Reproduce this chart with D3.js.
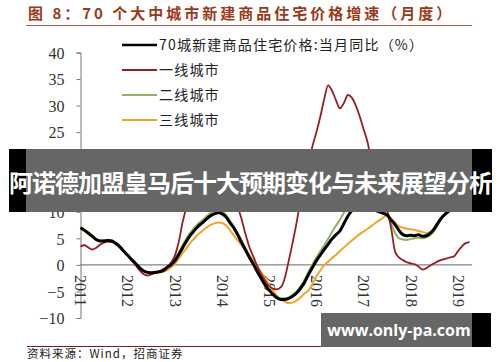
<!DOCTYPE html>
<meta charset="utf-8">
<style>
body { margin: 0; background: #fff; }
svg { display: block; }
.axis text { font: 16px "Liberation Serif", serif; fill: #333; }
.axis path, .axis line { stroke: #777; }
.legend text { font: 14px "Noto Sans CJK SC", sans-serif; fill: #222; letter-spacing: 1.2px; }
</style>
<svg width="500" height="362"></svg>
<script src="https://cdn.jsdelivr.net/npm/d3@7/dist/d3.min.js"></script>
<script>

// monthly, Jan 2011 .. Apr 2019
var years = ["2011", "2012", "2013", "2014", "2015", "2016", "2017", "2018", "2019"];
var yTicks = [-10, -5, 0, 5, 10, 15, 20, 25, 30, 35, 40];
var seriesNames = ["70城新建商品住宅价格:当月同比（%）", "一线城市", "二线城市", "三线城市"];

var city70 = [7.0, 6.5, 6.0, 5.4, 4.8, 4.5, 4.5, 4.6, 4.5, 4.0,
  3.4, 2.6, 1.8, 1.0, 0.3, -0.5, -1.1, -1.4, -1.5, -1.4,
  -1.3, -1.1, -0.5, 0.0, 0.8, 2.0, 3.2, 4.5, 5.6, 6.5,
  7.3, 7.9, 8.6, 9.2, 9.6, 9.8, 9.6, 9.0, 8.0, 7.0,
  5.7, 4.2, 2.8, 1.4, 0.1, -1.3, -2.6, -3.8, -4.8, -5.6,
  -6.2, -6.5, -6.5, -6.3, -5.9, -5.3, -4.4, -3.3, -1.8, -0.5,
  0.8, 1.9, 2.9, 3.9, 4.9, 5.7, 6.4, 7.8, 9.2, 10.2,
  10.7, 10.8, 10.8, 10.7, 10.6, 10.3, 10.0, 9.7, 9.4, 8.5,
  7.6, 6.5, 5.7, 5.5, 5.6, 5.5, 5.7, 5.4, 5.5, 6.0,
  6.8, 8.0, 9.0, 9.7, 10.3, 10.7, 10.9, 11.1, 11.3, 11.4];

var tier1 = [3.5, 3.7, 3.3, 2.9, 3.2, 3.8, 4.2, 4.4, 4.3, 4.2,
  3.6, 2.6, 1.8, 0.9, 0.0, -1.0, -1.7, -2.0, -1.8, -1.5,
  -1.2, -0.8, -0.4, 0.4, 1.8, 4.5, 8.0, 11.0, 13.8, 16.2,
  18.2, 19.7, 20.6, 21.1, 21.2, 20.6, 19.5, 17.8, 15.8, 13.5,
  11.0, 8.6, 5.8, 3.3, 1.5, -0.3, -1.8, -3.0, -4.0, -4.5,
  -4.6, -4.2, -2.5, 0.8, 4.2, 8.0, 12.5, 16.5, 19.5, 22.3,
  25.0, 28.0, 31.2, 33.8, 32.8, 31.0, 29.5, 30.5, 32.0, 31.5,
  30.0, 28.0, 25.5, 23.0, 19.5, 17.0, 14.0, 12.0, 10.3, 7.0,
  2.5, 1.4, 0.9, 0.5, 0.3, 0.1, -0.3, -0.9, -0.6, -0.1,
  0.3, 0.7, 1.0, 1.2, 1.4, 1.6, 2.6, 3.5, 4.1, 4.3];

var tier2 = [7.1, 6.6, 6.1, 5.5, 4.9, 4.6, 4.6, 4.7, 4.6, 4.1,
  3.5, 2.7, 1.8, 1.0, 0.3, -0.5, -1.1, -1.4, -1.5, -1.4,
  -1.3, -1.0, -0.4, 0.2, 1.1, 2.4, 3.7, 5.0, 6.1, 7.0,
  7.8, 8.4, 9.1, 9.7, 10.1, 10.3, 10.1, 9.4, 8.4, 7.3,
  6.0, 4.6, 3.2, 1.7, 0.4, -1.0, -2.4, -3.6, -4.7, -5.5,
  -6.0, -6.3, -6.3, -6.1, -5.6, -5.0, -4.0, -2.8, -1.3, 0.1,
  1.4, 2.6, 3.7, 4.9, 6.2, 7.4, 8.5, 9.8, 11.2, 12.2,
  12.8, 13.0, 12.9, 12.6, 12.1, 11.5, 10.8, 10.1, 9.4, 7.8,
  6.0, 5.0, 4.8, 4.7, 4.9, 5.0, 5.1, 5.0, 5.2, 5.6,
  6.4, 7.6, 8.9, 10.0, 10.9, 11.4, 11.7, 11.9, 12.1, 12.3];

var tier3 = [7.0, 6.6, 6.1, 5.5, 4.9, 4.5, 4.4, 4.5, 4.4, 4.0,
  3.4, 2.6, 1.8, 1.0, 0.2, -0.6, -1.1, -1.4, -1.5, -1.5,
  -1.4, -1.3, -1.0, -0.5, 0.2, 1.2, 2.2, 3.2, 4.2, 5.0,
  5.8, 6.4, 7.0, 7.5, 7.8, 8.0, 7.9, 7.4, 6.6, 5.6,
  4.6, 3.7, 2.7, 1.8, 0.8, -0.3, -1.4, -2.6, -3.8, -4.9,
  -5.8, -6.5, -6.9, -7.2, -7.1, -6.7, -6.1, -5.4, -4.8, -3.6,
  -2.2, -1.0, -0.1, 0.6, 1.3, 1.9, 2.6, 3.3, 4.0, 4.6,
  5.2, 5.8, 6.3, 6.8, 7.3, 7.9, 8.4, 8.9, 9.4, 8.7,
  7.9, 7.3, 7.0, 6.8, 6.7, 6.6, 6.4, 6.2, 6.0, 6.2,
  6.9, 8.0, 9.0, 9.7, 10.2, 10.6, 10.9, 11.2, 11.4, 11.6];

var months = d3.timeMonth.range(new Date(2011, 0, 1), new Date(2019, 4, 1));

var svg = d3.select("svg");

var x = d3.scaleTime()
    .domain([new Date(2011, 0, 1), new Date(2019, 0, 1)])
    .range([80.5, 458]);

var y = d3.scaleLinear()
    .domain([-10, 40])
    .range([318, 52.5]);

// title
svg.append("text")
    .attr("x", 28).attr("y", 19)
    .style("font", "bold 15px 'Noto Sans CJK SC', sans-serif")
    .style("letter-spacing", "3px")
    .attr("fill", "#9b3a1a")
    .text("图 8：70 个大中城市新建商品住宅价格增速（月度）");

svg.append("line")
    .attr("x1", 26).attr("x2", 472).attr("y1", 25.5).attr("y2", 25.5)
    .attr("stroke", "#a5614f").attr("stroke-width", 1.2);

// axes
svg.append("g")
    .attr("class", "axis")
    .attr("transform", "translate(" + x(new Date(2011, 0, 1)) + ",0)")
    .call(d3.axisLeft(y).tickValues(yTicks).tickSize(4).tickPadding(12))
    .call(function(g) { g.selectAll(".tick text").attr("dy", "0.36em"); });

svg.append("line")
    .attr("x1", x(new Date(2011, 0, 1))).attr("x2", x(new Date(2019, 3, 20)))
    .attr("y1", y(0)).attr("y2", y(0))
    .attr("stroke", "#666").attr("stroke-width", 1);

svg.append("g")
    .attr("class", "axis")
  .selectAll("text")
  .data(years)
  .enter().append("text")
    .attr("transform", function(d) {
      return "translate(" + x(new Date(+d, 0, 1)) + "," + (y(0) + 10) + ") rotate(90)";
    })
    .attr("dy", "0.33em")
    .text(function(d) { return d; });

// lines
var series = [
  { name: seriesNames[0], values: city70, color: "#000", width: 3 },
  { name: seriesNames[1], values: tier1, color: "#9a1f22", width: 1.8 },
  { name: seriesNames[2], values: tier2, color: "#93b35a", width: 2 },
  { name: seriesNames[3], values: tier3, color: "#f5a524", width: 2 }
];

var line = d3.line()
    .x(function(d, i) { return x(months[i]); })
    .y(function(d) { return y(d); })
    .curve(d3.curveMonotoneX);

var drawOrder = [2, 3, 1, 0];
svg.append("g")
  .selectAll("path")
  .data(drawOrder.map(function(i) { return series[i]; }))
  .enter().append("path")
    .attr("fill", "none")
    .attr("stroke", function(d) { return d.color; })
    .attr("stroke-width", function(d) { return d.width; })
    .attr("stroke-linejoin", "round")
    .attr("d", function(d) { return line(d.values); });

// legend
var legend = svg.append("g")
    .attr("class", "legend")
  .selectAll("g")
  .data(series)
  .enter().append("g")
    .attr("transform", function(d, i) { return "translate(122," + (45 + i * 25) + ")"; });

legend.append("line")
    .attr("x1", 0).attr("x2", 35)
    .attr("stroke", function(d) { return d.color; })
    .attr("stroke-width", function(d, i) { return i === 0 ? 2.6 : 2; });

legend.append("text")
    .attr("x", 37).attr("dy", "0.35em")
    .text(function(d) { return d.name; });

// source
svg.append("line")
    .attr("x1", 27).attr("x2", 472).attr("y1", 346.5).attr("y2", 346.5)
    .attr("stroke", "#7a1f1f").attr("stroke-width", 1);

svg.append("text")
    .attr("x", 27).attr("y", 352.5)
    .attr("dominant-baseline", "central")
    .style("font", "11.5px 'Noto Sans CJK SC', sans-serif")
    .style("letter-spacing", "1px")
    .attr("fill", "#222")
    .text("资料来源：Wind，招商证券");

// overlay banner
var banner = svg.append("g");
banner.append("rect").attr("x", 9).attr("y", 149).attr("width", 483).attr("height", 63).attr("fill", "#000");
banner.append("rect").attr("x", 26).attr("y", 149).attr("width", 446).attr("height", 63).attr("fill", "#fff").attr("fill-opacity", 0.4);
banner.append("text")
    .attr("x", 250.5).attr("y", 181)
    .attr("text-anchor", "middle")
    .attr("dominant-baseline", "central")
    .style("font", "bold 24px 'Noto Sans CJK SC', sans-serif")
    .style("letter-spacing", "-1px")
    .attr("fill", "#fff")
    .text("阿诺德加盟皇马后十大预期变化与未来展望分析");

var mark = svg.append("g");
mark.append("rect").attr("x", 321).attr("y", 313).attr("width", 170).attr("height", 34).attr("fill", "#000");
mark.append("rect").attr("x", 321).attr("y", 313).attr("width", 151).attr("height", 34).attr("fill", "#fff").attr("fill-opacity", 0.4);
mark.append("text")
    .attr("x", 399).attr("y", 330)
    .attr("text-anchor", "middle")
    .attr("dominant-baseline", "central")
    .style("font", "bold 16px 'Open Sans', 'Liberation Sans', sans-serif")
    .attr("fill", "#fff")
    .text("www.only-pa.com");

</script>
